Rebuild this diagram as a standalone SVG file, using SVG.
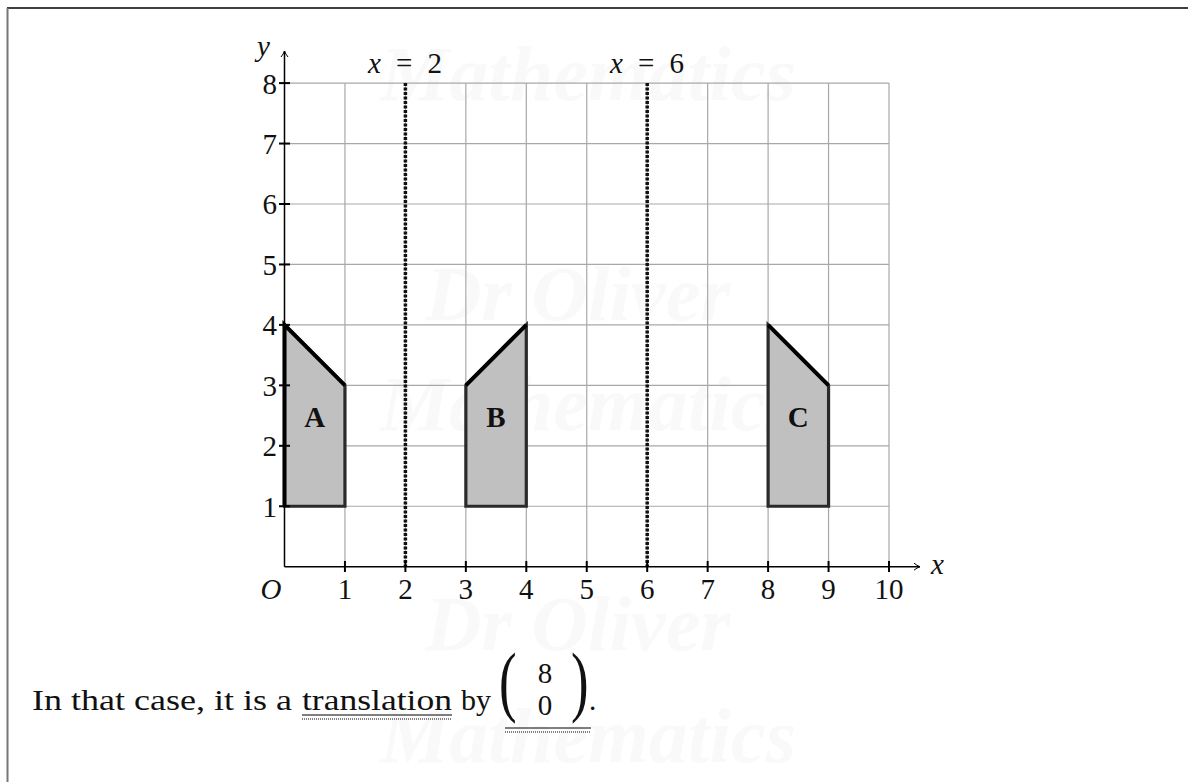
<svg xmlns="http://www.w3.org/2000/svg" width="1188" height="782" viewBox="0 0 1188 782">
<style>
.t{font-family:"Liberation Serif","DejaVu Serif",serif;font-size:29px;fill:#111}
.i{font-style:italic}
.b{font-weight:bold}
.wm{font-family:"Liberation Serif",serif;font-style:italic;font-weight:bold;font-size:78px;fill:#f9f9f9;text-anchor:middle}
.grid{stroke:#a8a8a8;stroke-width:1.2}
.tick{stroke:#000;stroke-width:2}
.shape{fill:#c0c0c0;stroke:#2a2a2a;stroke-width:3.2;stroke-linejoin:miter}
.edge{fill:none;stroke:#000;stroke-width:4}
.mirror{stroke:#111;stroke-width:3.5;stroke-dasharray:3 1.5}
.par{font-family:"Liberation Serif","DejaVu Serif",serif;font-size:66px;fill:#111}
</style>
<defs>
<marker id="arr" markerWidth="10" markerHeight="10" refX="8" refY="5" orient="auto" markerUnits="userSpaceOnUse">
<path d="M2,1.5 Q5,4 8,5 Q5,6 2,8.5" fill="none" stroke="#000" stroke-width="1"/>
</marker>
</defs>
<rect width="1188" height="782" fill="#fff"/>
<g id="watermark">
<text class="wm" x="588" y="100">Mathematics</text>
<text class="wm" x="578" y="320">Dr Oliver</text>
<text class="wm" x="588" y="430">Mathematics</text>
<text class="wm" x="578" y="650">Dr Oliver</text>
<text class="wm" x="588" y="762">Mathematics</text>
</g>
<g id="frame">
<line x1="7" y1="8" x2="1188" y2="8" stroke="#000" stroke-width="1.5"/>
<line x1="7.5" y1="8" x2="7.5" y2="782" stroke="#777" stroke-width="2"/>
</g>
<g id="grid">
<line class="grid" x1="344.95" y1="83.1" x2="344.95" y2="566.7"/>
<line class="grid" x1="405.4" y1="83.1" x2="405.4" y2="566.7"/>
<line class="grid" x1="465.85" y1="83.1" x2="465.85" y2="566.7"/>
<line class="grid" x1="526.3" y1="83.1" x2="526.3" y2="566.7"/>
<line class="grid" x1="586.75" y1="83.1" x2="586.75" y2="566.7"/>
<line class="grid" x1="647.2" y1="83.1" x2="647.2" y2="566.7"/>
<line class="grid" x1="707.65" y1="83.1" x2="707.65" y2="566.7"/>
<line class="grid" x1="768.1" y1="83.1" x2="768.1" y2="566.7"/>
<line class="grid" x1="828.55" y1="83.1" x2="828.55" y2="566.7"/>
<line class="grid" x1="889" y1="83.1" x2="889" y2="566.7"/>
<line class="grid" x1="284.5" y1="506.25" x2="889" y2="506.25"/>
<line class="grid" x1="284.5" y1="445.8" x2="889" y2="445.8"/>
<line class="grid" x1="284.5" y1="385.35" x2="889" y2="385.35"/>
<line class="grid" x1="284.5" y1="324.9" x2="889" y2="324.9"/>
<line class="grid" x1="284.5" y1="264.45" x2="889" y2="264.45"/>
<line class="grid" x1="284.5" y1="204" x2="889" y2="204"/>
<line class="grid" x1="284.5" y1="143.55" x2="889" y2="143.55"/>
<line class="grid" x1="284.5" y1="83.1" x2="889" y2="83.1"/>
</g>
<g id="shapeA">
<polygon class="shape" points="284.5,324.9 344.95,385.35 344.95,506.25 284.5,506.25"/>
<polyline class="edge" points="284.5,506.25 284.5,324.9 344.95,385.35"/>
<text class="t b" x="314.7" y="427" text-anchor="middle">A</text>
</g>
<g id="shapeB">
<polygon class="shape" points="465.85,385.35 526.3,324.9 526.3,506.25 465.85,506.25"/>
<polyline class="edge" points="465.85,385.35 526.3,324.9"/>
<text class="t b" x="496" y="427" text-anchor="middle">B</text>
</g>
<g id="shapeC">
<polygon class="shape" points="768.1,324.9 828.55,385.35 828.55,506.25 768.1,506.25"/>
<polyline class="edge" points="768.1,324.9 828.55,385.35"/>
<text class="t b" x="798.3" y="427" text-anchor="middle">C</text>
</g>
<g id="connectors">
<line class="mirror" x1="405.4" y1="83.1" x2="405.4" y2="566.7"/>
<line class="mirror" x1="647.2" y1="83.1" x2="647.2" y2="566.7"/>
<line x1="284.5" y1="566.7" x2="920" y2="566.7" stroke="#000" stroke-width="1.5" marker-end="url(#arr)"/>
<line x1="284.5" y1="566.7" x2="284.5" y2="51" stroke="#000" stroke-width="1.5" marker-end="url(#arr)"/>
</g>
<g id="ticks">
<line class="tick" x1="344.95" y1="561" x2="344.95" y2="572"/>
<line class="tick" x1="405.4" y1="561" x2="405.4" y2="572"/>
<line class="tick" x1="465.85" y1="561" x2="465.85" y2="572"/>
<line class="tick" x1="526.3" y1="561" x2="526.3" y2="572"/>
<line class="tick" x1="586.75" y1="561" x2="586.75" y2="572"/>
<line class="tick" x1="647.2" y1="561" x2="647.2" y2="572"/>
<line class="tick" x1="707.65" y1="561" x2="707.65" y2="572"/>
<line class="tick" x1="768.1" y1="561" x2="768.1" y2="572"/>
<line class="tick" x1="828.55" y1="561" x2="828.55" y2="572"/>
<line class="tick" x1="889" y1="561" x2="889" y2="572"/>
<line class="tick" x1="279" y1="506.25" x2="290" y2="506.25"/>
<line class="tick" x1="279" y1="445.8" x2="290" y2="445.8"/>
<line class="tick" x1="279" y1="385.35" x2="290" y2="385.35"/>
<line class="tick" x1="279" y1="324.9" x2="290" y2="324.9"/>
<line class="tick" x1="279" y1="264.45" x2="290" y2="264.45"/>
<line class="tick" x1="279" y1="204" x2="290" y2="204"/>
<line class="tick" x1="279" y1="143.55" x2="290" y2="143.55"/>
<line class="tick" x1="279" y1="83.1" x2="290" y2="83.1"/>
</g>
<g id="labels">
<text class="t i" x="257" y="56">y</text>
<text class="t i" x="931" y="574">x</text>
<text class="t i" x="271" y="599" text-anchor="middle">O</text>
<g text-anchor="end">
<text class="t" x="277" y="517">1</text>
<text class="t" x="277" y="456">2</text>
<text class="t" x="277" y="396">3</text>
<text class="t" x="277" y="335">4</text>
<text class="t" x="277" y="275">5</text>
<text class="t" x="277" y="214">6</text>
<text class="t" x="277" y="154">7</text>
<text class="t" x="277" y="94">8</text>
</g>
<g text-anchor="middle">
<text class="t" x="344.95" y="599">1</text>
<text class="t" x="405.4" y="599">2</text>
<text class="t" x="465.85" y="599">3</text>
<text class="t" x="526.3" y="599">4</text>
<text class="t" x="586.75" y="599">5</text>
<text class="t" x="647.2" y="599">6</text>
<text class="t" x="707.65" y="599">7</text>
<text class="t" x="768.1" y="599">8</text>
<text class="t" x="828.55" y="599">9</text>
<text class="t" x="889" y="599">10</text>
</g>
<text class="t" x="368" y="73" textLength="74" lengthAdjust="spacing"><tspan class="i">x</tspan> = 2</text>
<text class="t" x="610" y="73" textLength="74" lengthAdjust="spacing"><tspan class="i">x</tspan> = 6</text>
</g>
<g id="caption">
<text class="t" x="32" y="710" textLength="260" lengthAdjust="spacingAndGlyphs">In that case, it is a</text>
<text class="t" x="302" y="710" textLength="150" lengthAdjust="spacingAndGlyphs">translation</text>
<line x1="302" y1="715" x2="452" y2="715" stroke="#000" stroke-width="1"/>
<line x1="302" y1="719" x2="452" y2="719" stroke="#000" stroke-width="1" stroke-dasharray="1 1"/>
<text class="t" x="461" y="710" textLength="30" lengthAdjust="spacingAndGlyphs">by</text>
<text class="par" x="0" y="0" transform="translate(499 707) scale(0.8 1.2)">(</text>
<text class="t" x="545" y="683" text-anchor="middle">8</text>
<text class="t" x="545" y="715" text-anchor="middle">0</text>
<text class="par" x="0" y="0" transform="translate(571 707) scale(0.8 1.2)">)</text>
<text class="t" x="589" y="710">.</text>
<line x1="505" y1="728" x2="591" y2="728" stroke="#000" stroke-width="1"/>
<line x1="505" y1="732" x2="591" y2="732" stroke="#000" stroke-width="1" stroke-dasharray="1 1"/>
</g>
</svg>
